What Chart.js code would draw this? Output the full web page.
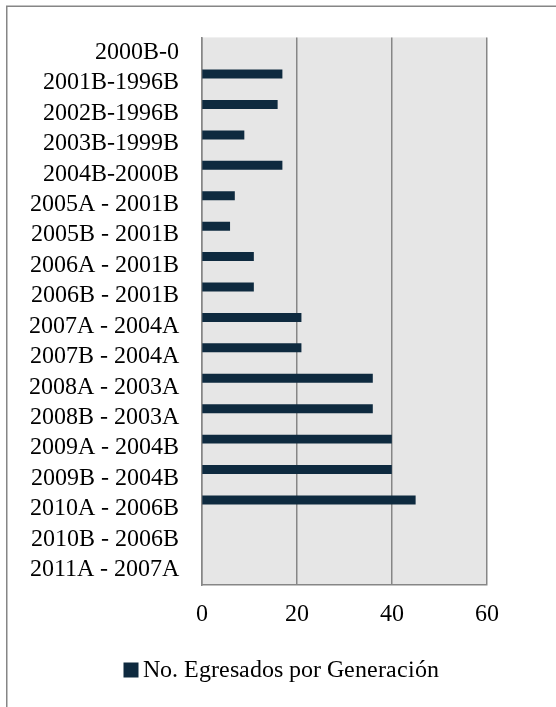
<!DOCTYPE html>
<html><head><meta charset="utf-8">
<script src="https://cdn.jsdelivr.net/npm/chart.js@4/dist/chart.umd.min.js"></script>
<style>
  @font-face {
    font-family: 'SerifLocal';
    src: local('Liberation Serif'), local('LiberationSerif'), local('LiberationSerif-Regular'), local('Tinos'), local('Times New Roman');
  }
</style>
</head>
<body style="margin:0">
<canvas id="c" width="556" height="707"></canvas>
<script>
// Generaciones (egreso - ingreso)
const generaciones = [
  '2000B-0', '2001B-1996B', '2002B-1996B', '2003B-1999B', '2004B-2000B',
  '2005A - 2001B', '2005B - 2001B', '2006A - 2001B', '2006B - 2001B',
  '2007A - 2004A', '2007B - 2004A', '2008A - 2003A', '2008B - 2003A',
  '2009A - 2004B', '2009B - 2004B', '2010A - 2006B', '2010B - 2006B',
  '2011A - 2007A'
];
// Egresados por generacion
const egresados = [null, 17, 16, 9, 17, 7, 6, 11, 11, 21, 21, 36, 36, 40, 40, 45, null, null];
// Series vacias del libro original (ocupan su lugar en cada grupo)
const serieVaciaA = generaciones.map(() => null);
const serieVaciaB = generaciones.map(() => null);
const xTicks = [0, 20, 40, 60];

const FONT = 'SerifLocal, "Liberation Serif", Tinos, "Times New Roman", serif';
const GRIS = '#868686';
const AZUL = '#0e2a3f';

const fondo = {
  id: 'fondo',
  beforeDraw(chart) {
    const { ctx, chartArea: a } = chart;
    ctx.save();
    ctx.fillStyle = '#ffffff';
    ctx.fillRect(0, 0, chart.width, chart.height);
    ctx.strokeStyle = GRIS;
    ctx.lineWidth = 1.5;
    ctx.strokeRect(6.75, 6.25, 620, 800);
    ctx.fillStyle = '#e6e6e6';
    ctx.fillRect(a.left, a.top, a.right - a.left, a.bottom - a.top);
    ctx.restore();
  }
};

// Leyenda: cuadro de color junto al texto, centrada bajo la grafica
const leyenda = {
  id: 'leyenda',
  afterDraw(chart) {
    const { ctx } = chart;
    const ds = chart.data.datasets[0];
    ctx.save();
    ctx.font = '24px ' + FONT;
    const w = ctx.measureText(ds.label).width;
    const box = 15, gap = 4;
    const total = box + gap + w;
    const x0 = (chart.width - total) / 2 + 3;
    const yc = 670;
    ctx.fillStyle = ds.backgroundColor;
    ctx.fillRect(x0, yc - box / 2, box, box);
    ctx.fillStyle = '#000';
    ctx.textBaseline = 'middle';
    ctx.textAlign = 'left';
    ctx.fillText(ds.label, x0 + box + gap, yc + 1);
    ctx.restore();
  }
};

function dibujar() {
  Chart.defaults.font.family = FONT;
  Chart.defaults.font.size = 24;
  Chart.defaults.color = '#000';

  new Chart(document.getElementById('c'), {
    type: 'bar',
    data: {
      labels: generaciones,
      datasets: [
        { label: 'No. Egresados por Generación', data: egresados,
          backgroundColor: AZUL, borderWidth: 0 },
        { label: '', data: serieVaciaA, backgroundColor: 'transparent' },
        { label: '', data: serieVaciaB, backgroundColor: 'transparent' }
      ]
    },
    options: {
      indexAxis: 'y',
      responsive: false,
      animation: false,
      categoryPercentage: 0.885,
      barPercentage: 1.0,
      layout: { padding: { left: 7, top: 36, right: 69, bottom: 82 } },
      scales: {
        x: {
          min: 0, max: 60,
          afterBuildTicks(scale) { scale.ticks = xTicks.map(v => ({ value: v })); },
          afterFit(scale) { scale.height = 40; },
          ticks: { color: '#000', padding: 15, font: { family: FONT, size: 24 } },
          grid: { color: GRIS, lineWidth: 1.5, drawTicks: false },
          border: { display: true, color: GRIS, width: 1.5 }
        },
        y: {
          afterFit(scale) { scale.width = 194.5; },
          ticks: { color: '#000', padding: 23, autoSkip: false, font: { family: FONT, size: 24 } },
          grid: { display: false, drawTicks: false },
          border: { display: true, color: GRIS, width: 1.5 }
        }
      },
      plugins: {
        legend: { display: false },
        tooltip: { enabled: false }
      }
    },
    plugins: [fondo, leyenda]
  });
}

if (document.fonts && document.fonts.load) {
  Promise.all([
    document.fonts.load('24px SerifLocal', 'No. Egresados por Generación 0123456789AB-'),
    document.fonts.load('24px "Liberation Serif"')
  ]).then(dibujar, dibujar);
} else {
  dibujar();
}
</script></body></html>
